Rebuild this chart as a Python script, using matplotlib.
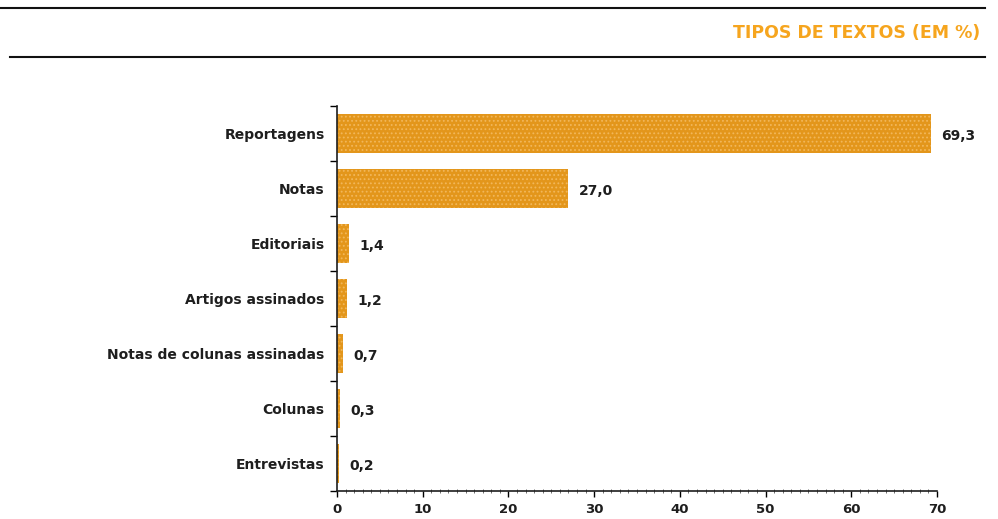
import matplotlib
matplotlib.use('Agg')
import matplotlib.pyplot as plt
from matplotlib.lines import Line2D
from matplotlib.ticker import FixedLocator, MultipleLocator

categories = ['Reportagens', 'Notas', 'Editoriais', 'Artigos assinados',
              'Notas de colunas assinadas', 'Colunas', 'Entrevistas']
values = [69.3, 27.0, 1.4, 1.2, 0.7, 0.3, 0.2]
x_ticks = [0, 10, 20, 30, 40, 50, 60, 70]

BAR_COLOR = '#E3961B'
TITLE_COLOR = '#F6A51E'
TEXT_COLOR = '#1E1E1E'


def fmt(v):
    return f'{v:.1f}'.replace('.', ',')


def main():
    fig = plt.figure(figsize=(9.98, 5.19), dpi=100)
    ax = fig.add_axes([0.3377, 0.0540, 0.6012, 0.7418])

    ypos = list(range(len(categories)))
    plt.rcParams['hatch.color'] = '#F2B75A'
    plt.rcParams['hatch.linewidth'] = 0.8
    bars = ax.barh(ypos, values, height=0.71, color=BAR_COLOR,
                   hatch='....', linewidth=0)
    for b, v in zip(bars, values):
        ax.text(b.get_width() + 1.2, b.get_y() + b.get_height() / 2 + 0.04,
                fmt(v), va='center', ha='left', fontsize=10,
                fontweight='bold', color=TEXT_COLOR)

    ax.set_xlim(0, 70)
    ax.set_ylim(len(categories) - 0.5, -0.5)
    ax.set_yticks(ypos)
    ax.set_yticklabels(categories, fontsize=10, fontweight='bold',
                       color=TEXT_COLOR)
    ax.yaxis.set_minor_locator(FixedLocator([i - 0.5 for i in range(len(categories) + 1)]))
    ax.tick_params(axis='y', which='major', length=0, pad=9)
    ax.tick_params(axis='y', which='minor', length=5, width=1, direction='out')

    ax.set_xticks(x_ticks)
    ax.set_xticklabels([str(t) for t in x_ticks], fontsize=9.5,
                       fontweight='bold', color=TEXT_COLOR)
    ax.xaxis.set_minor_locator(MultipleLocator(1))
    ax.tick_params(axis='x', which='major', length=4, width=1, pad=5)
    ax.tick_params(axis='x', which='minor', length=2.5, width=0.6,
                   direction='inout', color='#555555')

    for s in ['top', 'right']:
        ax.spines[s].set_visible(False)
    for s in ['left', 'bottom']:
        ax.spines[s].set_linewidth(1.2)
        ax.spines[s].set_color(TEXT_COLOR)

    # header rules and title
    fig.add_artist(Line2D([0.0, 0.987], [0.985, 0.985], color='#111111', lw=1.5))
    fig.add_artist(Line2D([0.01, 0.987], [0.890, 0.890], color='#111111', lw=1.5))
    fig.text(0.982, 0.937, 'TIPOS DE TEXTOS (EM %)', ha='right', va='center',
             fontsize=12.5, fontweight='bold', color=TITLE_COLOR)

    fig.savefig('out.png', dpi=100)


if __name__ == '__main__':
    main()
